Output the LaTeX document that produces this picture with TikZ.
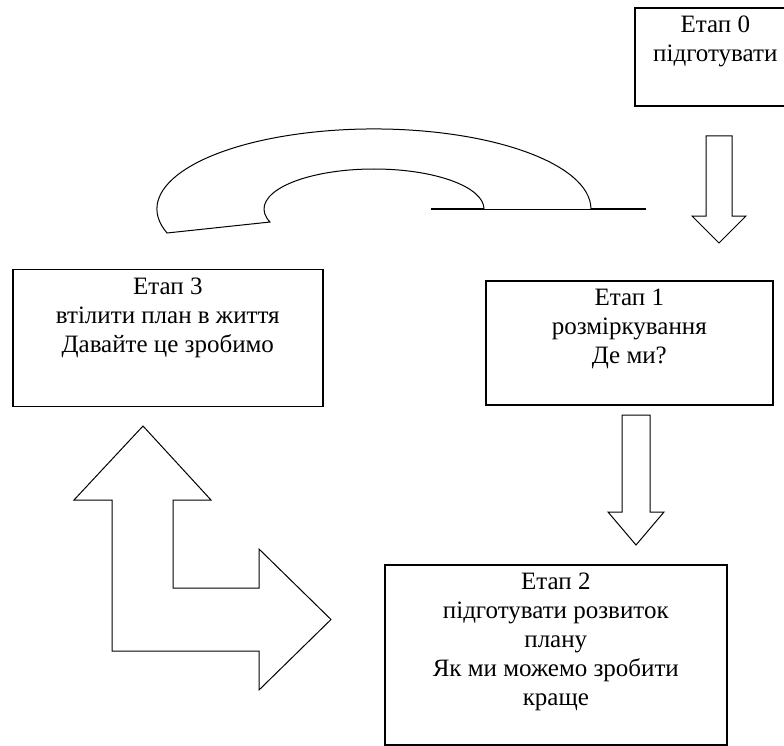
\documentclass[tikz,border=0pt]{standalone}
\usepackage{fontspec}
\setmainfont{Liberation Serif}
\usetikzlibrary{positioning}

\begin{document}
\begin{tikzpicture}[x=1pt,y=1pt,
        stagebox/.style={draw, line width=1.6pt, anchor=north west, inner sep=0pt},
        stagetext/.style={align=center, inner sep=0pt, font=\fontsize{25}{29}\selectfont},
        blockarrow/.style={draw, line width=1pt, line join=miter}]
            \useasboundingbox (0,0) rectangle (784,-746);
            \node[stagebox, minimum width=161pt, minimum height=98pt] (e0) at (634,-7) {};
            \node[stagebox, minimum width=287pt, minimum height=124pt] (e1) at (485,-280) {};
            \node[stagebox, minimum width=342pt, minimum height=180pt] (e2) at (384,-564) {};
            \node[stagebox, minimum width=310pt, minimum height=137pt] (e3) at (12,-268.5) {};
            \node[stagetext, below=9pt of e0.north] (t0) {Етап 0\\підготувати};
            \node[stagetext, below=9pt of e1.north] (t1) {Етап 1\\розміркування\\Де ми?};
            \node[stagetext, below=9pt of e2.north] (t2) {Етап 2\\підготувати розвиток\\плану\\Як ми можемо зробити\\краще};
            \node[stagetext, below=9pt of e3.north] (t3) {Етап 3\\втілити план в життя\\Давайте це зробимо};
            \draw[blockarrow] (706,-136) -- (732,-136) -- (732,-216) -- (746,-216) -- (719,-243)
                -- (692,-216) -- (706,-216) -- cycle;
            \draw[blockarrow] (622,-415) -- (650,-415) -- (650,-512) -- (664,-512) -- (636,-545)
                -- (608,-512) -- (622,-512) -- cycle;
            \draw[blockarrow] (143,-426) -- (211,-500) -- (173,-500) -- (173,-588) -- (259,-588)
                -- (259,-549) -- (331,-619.5) -- (259,-690) -- (259,-651) -- (112,-651)
                -- (112,-500) -- (74,-500) -- cycle;
            \draw[blockarrow] (484,-209) arc[start angle=0, end angle=199, x radius=110pt, y radius=40pt]
                -- (167,-233) arc[start angle=197.5, end angle=0, x radius=217pt, y radius=80pt];
            \draw[line width=1.8pt] (431,-209) -- (484,-209);
            \draw[line width=0.8pt] (484,-209) -- (591,-209);
            \draw[line width=1.8pt] (591,-209) -- (646,-209);
        \end{tikzpicture}
\end{document}
